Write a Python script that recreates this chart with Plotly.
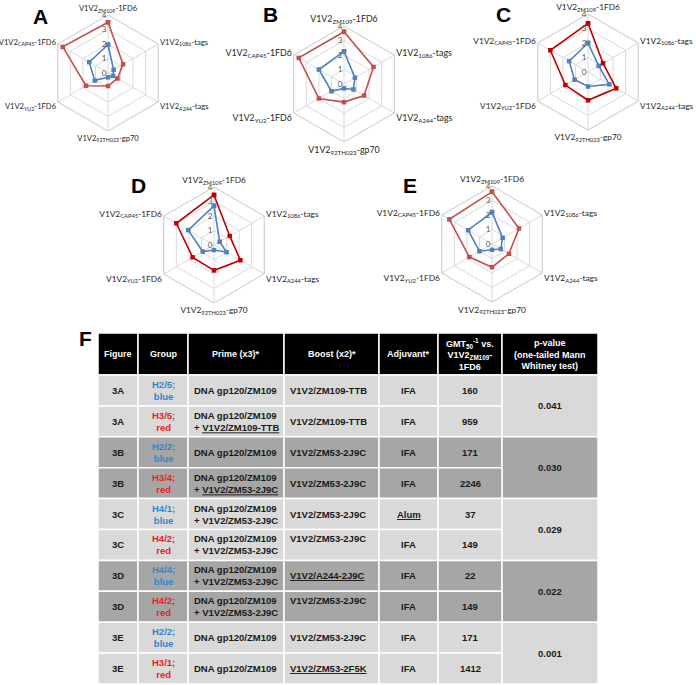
import plotly.graph_objects as go

# ---- radar data (log10 titres) ----
antigens = ["V1V2<sub>ZM109</sub>-1FD6", "V1V2<sub>1086</sub>-tags", "V1V2<sub>A244</sub>-tags",
            "V1V2<sub>92TH023</sub>-gp70", "V1V2<sub>YU2</sub>-1FD6", "V1V2<sub>CAP45</sub>-1FD6"]
radial_ticks = [0, 1, 2, 3, 4]

panels = ["A", "B", "C", "D", "E"]
blue_A = [1.95, 0.45, 0.4, 0.3, 1.05, 1.5]
red_A = [3.5, 1.2, 0.75, 0.9, 1.75, 3.6]
blue_B = [2.25, 0.87, 0.75, 0.3, 1.0, 2.0]
red_B = [3.6, 2.35, 1.6, 1.25, 2.0, 3.6]
blue_C = [2.0, 0.85, 1.7, 1.0, 1.07, 1.5]
red_C = [3.36, 1.2, 2.25, 1.95, 1.8, 3.0]
blue_D = [2.7, 0.45, 1.0, 0.35, 0.9, 2.05]
red_D = [3.45, 1.25, 2.1, 1.75, 1.7, 3.0]
blue_E = [2.2, 0.85, 0.7, 0.4, 1.0, 1.9]
red_E = [3.6, 2.15, 1.35, 1.6, 1.8, 3.4]

# ---- table data ----
header = ["Figure", "Group", "Prime (x3)*", "Boost (x2)*", "Adjuvant*",
          "GMT<sub>50</sub><sup>-1</sup> vs.<br>V1V2<sub>ZM109</sub>-<br>1FD6",
          "p-value<br>(one-tailed Mann<br>Whitney test)"]
figures = ["3A", "3A", "3B", "3B", "3C", "3C", "3D", "3D", "3E", "3E"]
groups = ["H2/5;<br>blue", "H3/5;<br>red", "H2/2;<br>blue", "H3/4;<br>red", "H4/1;<br>blue",
          "H4/2;<br>red", "H4/4;<br>blue", "H4/2;<br>red", "H2/2;<br>blue", "H3/1;<br>red"]
primes = ["DNA gp120/ZM109",
          "DNA gp120/ZM109<br>+ <u>V1V2/ZM109-TTB</u>",
          "DNA gp120/ZM109",
          "DNA gp120/ZM109<br>+ <u>V1V2/ZM53-2J9C</u>",
          "DNA gp120/ZM109<br>+ V1V2/ZM53-2J9C",
          "DNA gp120/ZM109<br>+ V1V2/ZM53-2J9C",
          "DNA gp120/ZM109<br>+ V1V2/ZM53-2J9C",
          "DNA gp120/ZM109<br>+ V1V2/ZM53-2J9C",
          "DNA gp120/ZM109",
          "DNA gp120/ZM109"]
boosts = ["V1V2/ZM109-TTB", "V1V2/ZM109-TTB", "V1V2/ZM53-2J9C", "V1V2/ZM53-2J9C",
          "V1V2/ZM53-2J9C", "V1V2/ZM53-2J9C", "<u>V1V2/A244-2J9C</u>", "V1V2/ZM53-2J9C",
          "V1V2/ZM53-2J9C", "<u>V1V2/ZM53-2F5K</u>"]
adjuvants = ["IFA", "IFA", "IFA", "IFA", "<u>Alum</u>", "IFA", "IFA", "IFA", "IFA", "IFA"]
gmt = [160, 959, 171, 2246, 37, 149, 22, 149, 171, 1412]
pvalues = ["0.041", "0.030", "0.029", "0.022", "0.001"]

# ---- styling ----
W, H = 696, 685
BLUE = "#4f81bd"
REDS = {"A": "#c0504d", "B": "#c0504d", "C": "#c00000", "D": "#c00000", "E": "#c0504d"}
centers = {"A": (108, 73), "B": (344, 84), "C": (588, 72), "D": (214, 245), "E": (492, 244)}
label_size = {"A": 7.6, "B": 8.8, "C": 8.3, "D": 8.3, "E": 8.4}
letters = {"A": (40, 16), "B": (270, 15), "C": (503, 15), "D": (138, 185), "E": (410, 185), "F": (85, 338)}
R = 58
boost_top_rows = {5, 7}   # boost text sits on the first line in these rows

fig = go.Figure()
radars = {"A": (blue_A, red_A), "B": (blue_B, red_B), "C": (blue_C, red_C),
          "D": (blue_D, red_D), "E": (blue_E, red_E)}

for i, p in enumerate(panels):
    sub = "polar" if i == 0 else "polar%d" % (i + 1)
    blue, red = radars[p]
    for vals, col in ((blue, BLUE), (red, REDS[p])):
        fig.add_trace(go.Scatterpolar(
            r=vals + vals[:1], theta=antigens + antigens[:1], subplot=sub,
            mode="lines+markers", line=dict(color=col, width=1.6),
            marker=dict(symbol="square", size=4.5, color=col), showlegend=False))
    cx, cy = centers[p]
    fig.layout[sub] = dict(
        domain=dict(x=[(cx - R) / W, (cx + R) / W], y=[1 - (cy + R) / H, 1 - (cy - R) / H]),
        gridshape="linear", bgcolor="white",
        radialaxis=dict(range=[0, 4], tickvals=radial_ticks, angle=90, tickangle=90,
                        side="counterclockwise",
                        showline=False, gridcolor="#d9d9d9", ticks="",
                        tickfont=dict(family="Lato", size=8, color="#595959")),
        angularaxis=dict(direction="clockwise", rotation=90, gridcolor="#d9d9d9",
                         showline=True, linecolor="#c8c8c8", ticks="",
                         tickfont=dict(family="Lato", size=label_size[p], color="#262626")))

# ---- table on a hidden cartesian axis (units = px) ----
col_w = [40, 50, 96, 95, 59, 64, 96]
head_h, row_h = 42, 30.9
edges = [0]
for w in col_w:
    edges.append(edges[-1] + w)
total_h = head_h + row_h * len(figures)
LIGHT, DARK = "#d9d9d9", "#a6a6a6"
GBLUE, GRED = "#2e86d1", "#e8221c"
TF = "Liberation Sans"
TS = 9.5

shapes = []
annots = []
for c, txt in enumerate(header):
    shapes.append(dict(type="rect", xref="x", yref="y", x0=edges[c], x1=edges[c + 1], y0=0, y1=head_h,
                       fillcolor="black", line=dict(color="white", width=1.5), layer="below"))
    annots.append(dict(xref="x", yref="y", x=(edges[c] + edges[c + 1]) / 2, y=head_h / 2,
                       text="<b>%s</b>" % txt, showarrow=False,
                       font=dict(family=TF, size=9, color="white")))

for r in range(len(figures)):
    y0 = head_h + r * row_h
    y1 = y0 + row_h
    ym = (y0 + y1) / 2
    fill = DARK if (r // 2) % 2 == 1 else LIGHT
    for c in range(6):
        shapes.append(dict(type="rect", xref="x", yref="y", x0=edges[c], x1=edges[c + 1], y0=y0, y1=y1,
                           fillcolor=fill, line=dict(color="white", width=1.5), layer="below"))
    if r % 2 == 0:
        shapes.append(dict(type="rect", xref="x", yref="y", x0=edges[6], x1=edges[7], y0=y0, y1=y0 + 2 * row_h,
                           fillcolor=fill, line=dict(color="white", width=1.5), layer="below"))
        annots.append(dict(xref="x", yref="y", x=(edges[6] + edges[7]) / 2, y=y0 + row_h,
                           text="<b>%s</b>" % pvalues[r // 2], showarrow=False,
                           font=dict(family=TF, size=TS, color="#1a1a1a")))
    gcol = GBLUE if r % 2 == 0 else GRED
    cells = [(figures[r], "center", "#1a1a1a"), (groups[r], "center", gcol),
             (primes[r], "left", "#1a1a1a"), (boosts[r], "left", "#1a1a1a"),
             (adjuvants[r], "center", "#1a1a1a"), (str(gmt[r]), "center", "#1a1a1a")]
    for c, (txt, al, fc) in enumerate(cells):
        x = (edges[c] + edges[c + 1]) / 2 if al == "center" else edges[c] + 4
        ys = 6 if (c == 3 and r in boost_top_rows) else 0
        annots.append(dict(xref="x", yref="y", x=x, y=ym, yshift=ys, text="<b>%s</b>" % txt,
                           showarrow=False, xanchor=al, align=al,
                           font=dict(family=TF, size=TS, color=fc)))

for k, (lx, ly) in letters.items():
    annots.append(dict(xref="paper", yref="paper", x=lx / W, y=1 - ly / H, text="<b>%s</b>" % k,
                       showarrow=False, xanchor="center", yanchor="middle",
                       font=dict(family="Liberation Sans", size=21, color="black")))

fig.update_layout(
    width=W, height=H, margin=dict(l=0, r=0, t=0, b=0),
    paper_bgcolor="white", plot_bgcolor="white", showlegend=False,
    xaxis=dict(domain=[98 / W, 598 / W], range=[0, edges[-1]], visible=False, fixedrange=True),
    yaxis=dict(domain=[1 - (333 + total_h) / H, 1 - 333 / H], range=[total_h, 0], visible=False,
               fixedrange=True),
    shapes=shapes, annotations=annots)

fig.write_html("out.html", config={"displayModeBar": False},
               post_script="document.body.style.margin='0px';document.body.style.overflow='hidden';")
